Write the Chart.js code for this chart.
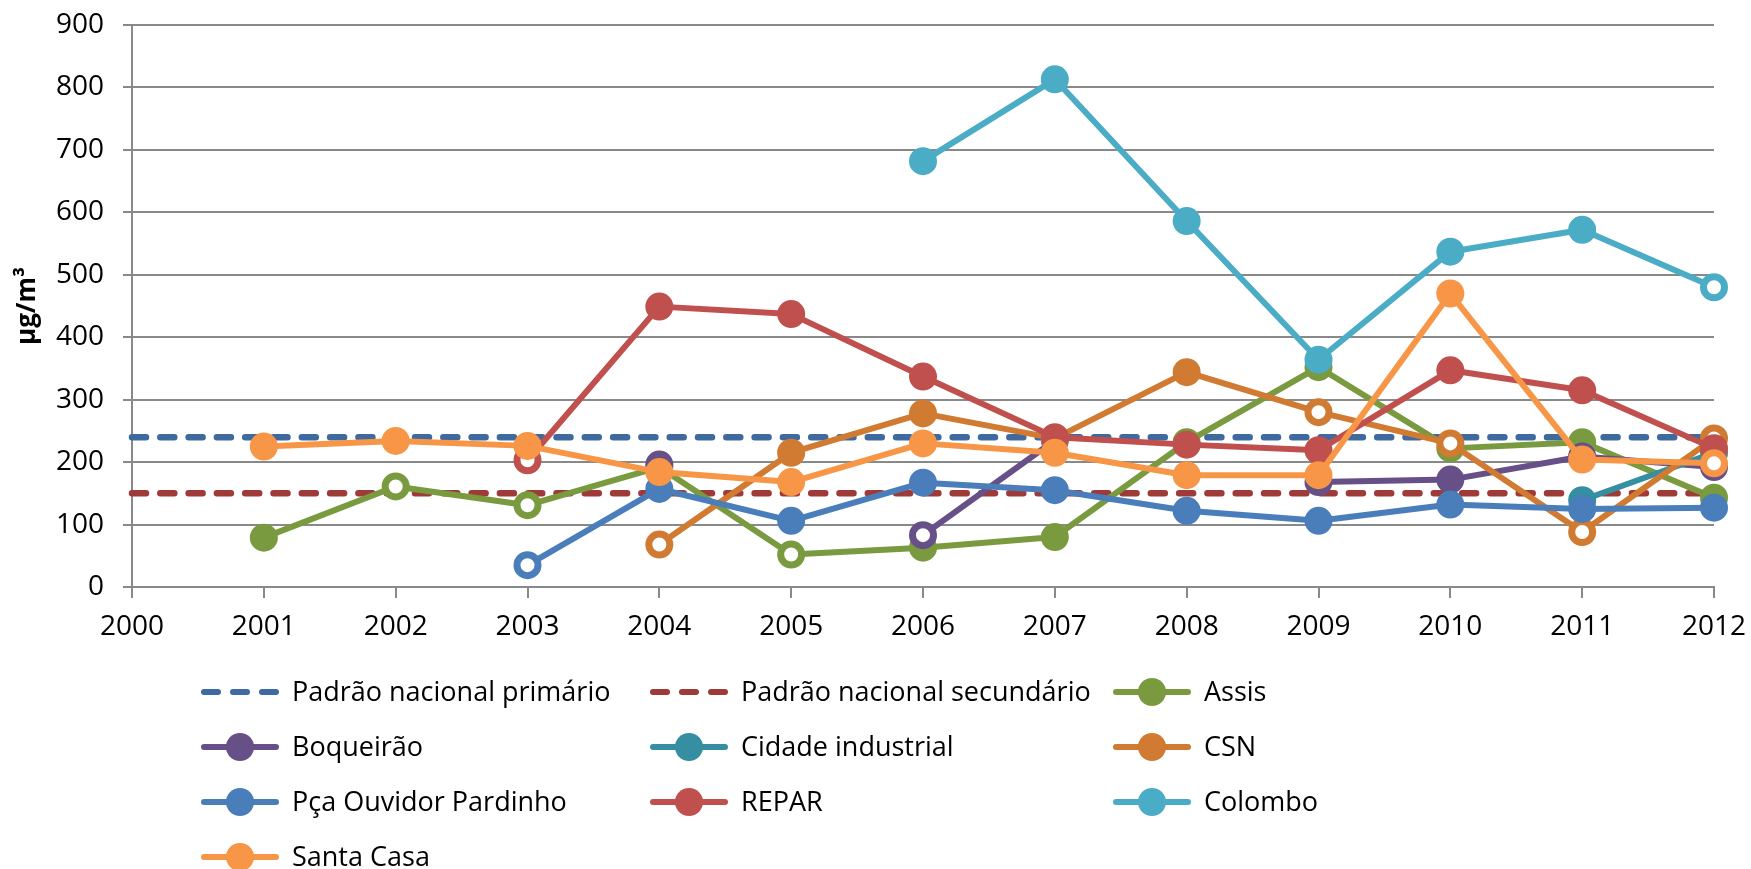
<!DOCTYPE html>
<html>
<head>
<meta charset="utf-8">
<script src="https://cdn.jsdelivr.net/npm/chart.js@4.4.1/dist/chart.umd.min.js"></script>
<style>
  html, body { margin: 0; padding: 0; background: #ffffff; }
  #wrap { width: 1751px; height: 869px; position: relative; }
</style>
</head>
<body>
<div id="wrap"><canvas id="c" width="1751" height="869"></canvas></div>
<script>
// ---- data ----
const years = [2000, 2001, 2002, 2003, 2004, 2005, 2006, 2007, 2008, 2009, 2010, 2011, 2012];
const yTicks = [0, 100, 200, 300, 400, 500, 600, 700, 800, 900];

const padraoPrimario   = [240, 240, 240, 240, 240, 240, 240, 240, 240, 240, 240, 240, 240];
const padraoSecundario = [150, 150, 150, 150, 150, 150, 150, 150, 150, 150, 150, 150, 150];

const assis      = [null, 79, 161, 131, 192, 52, 63, 80, 232, 352, 222, 232, 143];
const boqueirao  = [null, null, null, null, 196, null, 83, 235, null, 168, 172, 209, 192];
const cidadeInd  = [null, null, null, null, null, null, null, null, null, null, null, 139, 215];
const csn        = [null, null, null, null, 68, 215, 278, 238, 344, 280, 230, 88, 238];
const pcaOuvidor = [null, null, null, 35, 157, 106, 167, 155, 122, 106, 132, 125, 127];
const repar      = [null, null, null, 203, 449, 437, 337, 240, 228, 219, 347, 315, 222];
const colombo    = [null, null, null, null, null, null, 682, 813, 586, 364, 537, 572, 480];
const santaCasa  = [null, 225, 234, 226, 184, 168, 230, 215, 179, 179, 470, 204, 198];

// years whose marker is drawn hollow in the reference
const assisOpen     = [2002, 2003, 2005];
const boqueiraoOpen = [2006];
const cidadeOpen    = [];
const csnOpen       = [2004, 2009, 2010, 2011, 2012];
const pcaOpen       = [2003];
const reparOpen     = [2003];
const colomboOpen   = [2012];
const santaCasaOpen = [2012];

const FONT = "'Open Sans', 'Noto Sans', sans-serif";
const GRID = '#898989';

function standard(label, data, color) {
  return {
    label, data,
    borderColor: color, backgroundColor: color,
    borderWidth: 6.5, borderDash: [14, 14.3], borderCapStyle: 'round',
    pointRadius: 0, pointHoverRadius: 0, tension: 0, clip: false,
    isDashed: true
  };
}
function station(label, data, color, openYears) {
  const bg = years.map(y => openYears.includes(y) ? '#ffffff' : color);
  return {
    label, data,
    borderColor: color, backgroundColor: color,
    borderWidth: 6, borderJoinStyle: 'round', borderCapStyle: 'round',
    pointRadius: 10.5, pointHoverRadius: 10.5,
    pointBorderWidth: 7, pointBorderColor: color,
    pointBackgroundColor: bg,
    tension: 0, spanGaps: false, clip: false
  };
}

const datasets = [
  standard('Padrão nacional primário', padraoPrimario, '#3e6aa0'),
  standard('Padrão nacional secundário', padraoSecundario, '#9e3a37'),
  station('Assis', assis, '#799a3f', assisOpen),
  station('Boqueirão', boqueirao, '#674f87', boqueiraoOpen),
  station('Cidade industrial', cidadeInd, '#358ea1', cidadeOpen),
  station('CSN', csn, '#d07a32', csnOpen),
  station('Pça Ouvidor Pardinho', pcaOuvidor, '#4a7ebb', pcaOpen),
  station('REPAR', repar, '#c0504d', reparOpen),
  station('Colombo', colombo, '#4bacc6', colomboOpen),
  station('Santa Casa', santaCasa, '#f79646', santaCasaOpen)
];
// later series are drawn on top, as in the reference
datasets.forEach((d, i) => { d.order = datasets.length - 1 - i; });

const legendLayout = { rows: [692, 747, 802, 857], cols: [201, 650, 1113], lineLen: 78, textGap: 13, perRow: 3 };

const gridLegend = {
  id: 'gridLegend',
  afterDraw(chart) {
    const ctx = chart.ctx;
    const L = legendLayout;
    chart.data.datasets.forEach((ds, i) => {
      const row = Math.floor(i / L.perRow), col = i % L.perRow;
      const x0 = L.cols[col], y = L.rows[row];
      ctx.save();
      ctx.strokeStyle = ds.borderColor;
      ctx.lineWidth = 6;
      ctx.lineCap = 'round';
      if (ds.isDashed) ctx.setLineDash([14, 15]);
      ctx.beginPath();
      ctx.moveTo(x0 + 3, y);
      ctx.lineTo(x0 + L.lineLen - 3, y);
      ctx.stroke();
      ctx.setLineDash([]);
      if (!ds.isDashed) {
        ctx.fillStyle = ds.borderColor;
        ctx.beginPath();
        ctx.arc(x0 + L.lineLen / 2, y, 14, 0, Math.PI * 2);
        ctx.fill();
      }
      ctx.fillStyle = '#000000';
      ctx.font = "27px " + FONT;
      ctx.textAlign = 'left';
      ctx.textBaseline = 'middle';
      ctx.fillText(ds.label, x0 + L.lineLen + L.textGap, y + 1);
      ctx.restore();
    });
  }
};

new Chart(document.getElementById('c'), {
  type: 'line',
  data: { labels: years.map(String), datasets },
  options: {
    responsive: false,
    animation: false,
    devicePixelRatio: 1,
    layout: { padding: { left: 0, right: 37, top: 25, bottom: 0 } },
    plugins: { legend: { display: false }, tooltip: { enabled: false }, title: { display: false } },
    elements: { line: { borderJoinStyle: 'round' } },
    scales: {
      x: {
        type: 'category',
        offset: false,
        grid: { drawOnChartArea: false, drawTicks: true, tickLength: 11, color: GRID, lineWidth: 2, offset: false },
        border: { display: true, color: GRID, width: 2 },
        ticks: { color: '#000000', font: { family: FONT, size: 28 }, padding: 12, maxRotation: 0, autoSkip: false },
        afterFit(scale) {
          scale.height = 869 - 587;
          scale.paddingLeft = 0; scale.paddingRight = 0;
        }
      },
      y: {
        min: 0, max: 900,
        afterBuildTicks(scale) { scale.ticks = yTicks.map(v => ({ value: v })); },
        grid: { drawTicks: true, tickLength: 9, color: GRID, lineWidth: 2 },
        border: { display: true, color: GRID, width: 2 },
        ticks: { color: '#000000', font: { family: FONT, size: 28 }, padding: 19, callback: v => String(v) },
        title: { display: true, text: 'µg/m³', color: '#000000', font: { family: FONT, size: 26, weight: 'bold' }, padding: { top: 12, bottom: 0 } },
        afterFit(scale) {
          scale.width = 132;
          scale.paddingTop = 0; scale.paddingBottom = 0;
        }
      }
    }
  },
  plugins: [gridLegend]
});
</script>
</body>
</html>
